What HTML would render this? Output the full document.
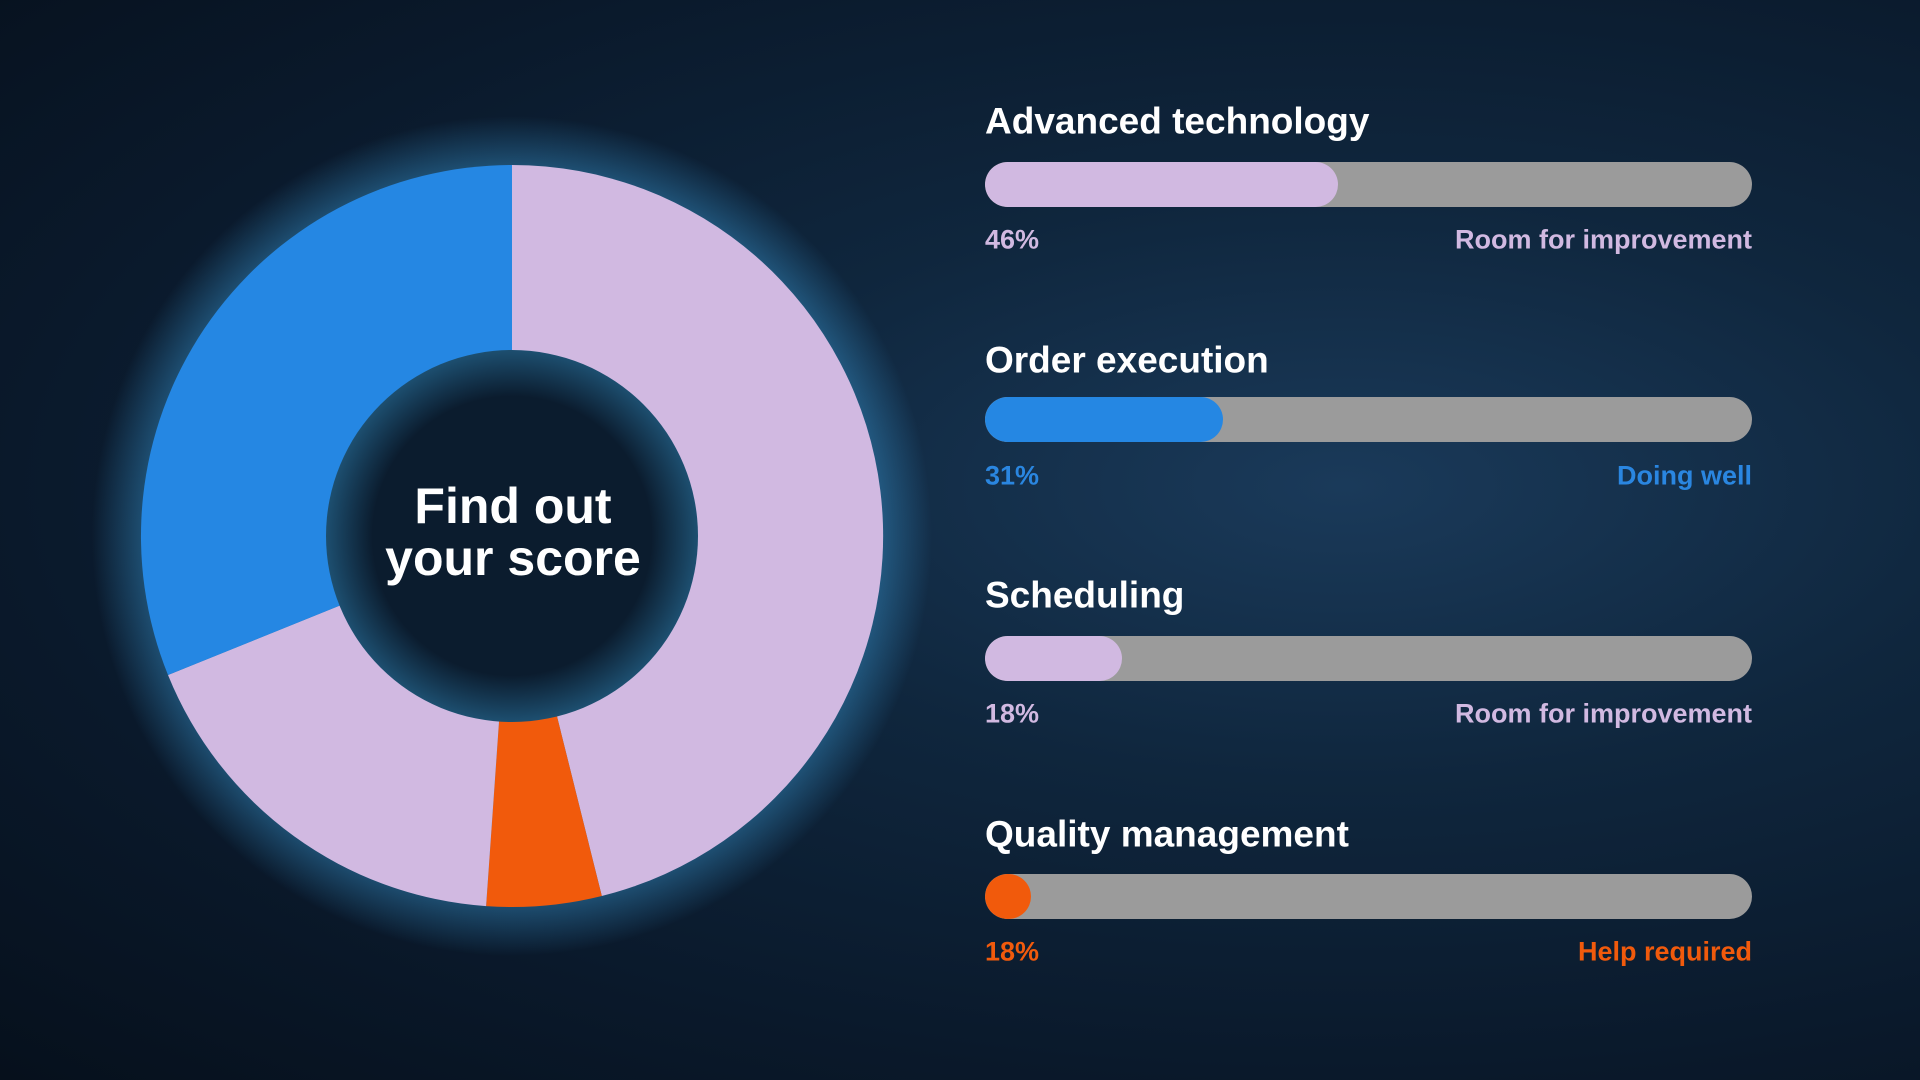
<!DOCTYPE html>
<html><head><meta charset="utf-8"><style>
html,body{margin:0;padding:0;}
body{width:1920px;height:1080px;overflow:hidden;position:relative;
background:radial-gradient(ellipse at 70% 45%,#1a3a5a 0%,#0f263d 35%,#0a192b 70%,#06101c 100%);
font-family:"Liberation Sans",sans-serif;font-weight:bold;}
.t{position:absolute;left:985px;color:#fff;font-size:37px;line-height:1;transform:translateY(-50%);white-space:nowrap;}
.bar{position:absolute;left:985px;width:767px;height:45px;border-radius:23px;background:#9b9b9b;overflow:hidden;}
.bar div{height:100%;border-radius:23px;}
.l{position:absolute;font-size:27px;line-height:1;transform:translateY(-50%);white-space:nowrap;}
.ll{left:985px}.lr{right:168px}
</style></head><body>
<svg width="1920" height="1080" style="position:absolute;left:0;top:0">
<defs>
<radialGradient id="glow" cx="0.5" cy="0.5" r="0.5">
<stop offset="0.8" stop-color="#3fa8e8" stop-opacity="0.6"/>
<stop offset="1" stop-color="#3fa8e8" stop-opacity="0"/>
</radialGradient>
<radialGradient id="hole" cx="0.5" cy="0.5" r="0.5">
<stop offset="0.75" stop-color="#0b1c2e"/>
<stop offset="1" stop-color="#1d4f70"/>
</radialGradient>
</defs>
<circle cx="512" cy="536" r="420" fill="url(#glow)"/>
<g transform="translate(512,536)">
<path d="M0,-371 A371,371 0 0 1 89.8,360.0 L0,0Z" fill="#d1b9e1"/>
<path d="M89.8,360.0 A371,371 0 0 1 -25.9,370.1 L0,0Z" fill="#f15a0c"/>
<path d="M-25.9,370.1 A371,371 0 0 1 -344.0,139.0 L0,0Z" fill="#d1b9e1"/>
<path d="M-344.0,139.0 A371,371 0 0 1 0,-371 L0,0Z" fill="#2587e3"/>
<circle r="186" fill="url(#hole)"/>
</g>
<text x="513" y="523" fill="#fff" font-size="50" font-weight="bold" text-anchor="middle" font-family="Liberation Sans, sans-serif">Find out</text>
<text x="513" y="575" fill="#fff" font-size="50" font-weight="bold" text-anchor="middle" font-family="Liberation Sans, sans-serif">your score</text>
</svg>

<div class="t" style="top:121px">Advanced technology</div>
<div class="bar" style="top:162px"><div style="width:353px;background:#d1b9e1"></div></div>
<div class="l ll" style="top:240px;color:#d1b9e1">46%</div>
<div class="l lr" style="top:240px;color:#d1b9e1">Room for improvement</div>

<div class="t" style="top:360px">Order execution</div>
<div class="bar" style="top:397px"><div style="width:238px;background:#2587e3"></div></div>
<div class="l ll" style="top:476px;color:#2a86e0">31%</div>
<div class="l lr" style="top:476px;color:#2a86e0">Doing well</div>

<div class="t" style="top:595px">Scheduling</div>
<div class="bar" style="top:636px"><div style="width:137px;background:#d1b9e1"></div></div>
<div class="l ll" style="top:714px;color:#d1b9e1">18%</div>
<div class="l lr" style="top:714px;color:#d1b9e1">Room for improvement</div>

<div class="t" style="top:834px">Quality management</div>
<div class="bar" style="top:874px"><div style="width:46px;background:#f15a0c"></div></div>
<div class="l ll" style="top:952px;color:#f15a0c">18%</div>
<div class="l lr" style="top:952px;color:#f15a0c">Help required</div>
</body></html>
